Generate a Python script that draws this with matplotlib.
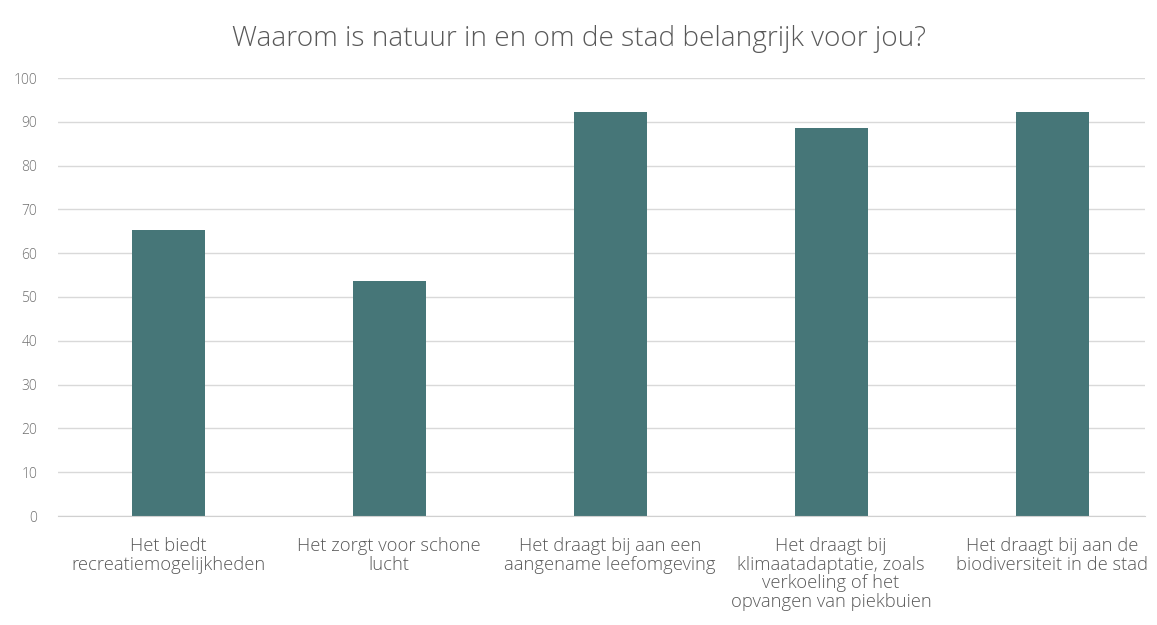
import matplotlib.pyplot as plt

categories = [
    "Het biedt\nrecreatiemogelijkheden",
    "Het zorgt voor schone\nlucht",
    "Het draagt bij aan een\naangename leefomgeving",
    "Het draagt bij\nklimaatadaptatie, zoals\nverkoeling of het\nopvangen van piekbuien",
    "Het draagt bij aan de\nbiodiversiteit in de stad",
]
values = [65.3, 53.7, 92.3, 88.5, 92.3]
yticks = list(range(0, 101, 10))

plt.rcParams['font.family'] = ['Open Sans', 'DejaVu Sans']

fig = plt.figure(figsize=(11.57, 6.25), dpi=100)
ax = fig.add_axes([0.050, 0.1744, 0.9395, 0.7008])

x = range(len(values))
ax.bar(x, values, width=0.33, color='#467678', zorder=3)

ax.set_ylim(0, 100)
ax.set_xlim(-0.5, 4.42)
ax.set_yticks(yticks)
ax.set_yticklabels([str(t) for t in yticks], color='#6f6f6f', fontsize=10, fontweight='light')
ax.set_xticks(list(x))
ax.set_xticklabels(categories, color='#595959', fontsize=13.2, fontweight='light',
                   linespacing=1.05, va='top')
ax.tick_params(axis='both', length=0)
ax.tick_params(axis='y', pad=15)
ax.tick_params(axis='x', pad=15)
ax.yaxis.grid(True, color='#d9d9d9', linewidth=1, zorder=0)
for s in ['top', 'right', 'left']:
    ax.spines[s].set_visible(False)
ax.spines['bottom'].set_color('#d0d0d0')
ax.spines['bottom'].set_zorder(4)

fig.text(0.5, 0.937, "Waarom is natuur in en om de stad belangrijk voor jou?",
         ha='center', va='center', fontsize=20.2, color='#595959', fontweight='light')

fig.savefig("out.png", dpi=100)
